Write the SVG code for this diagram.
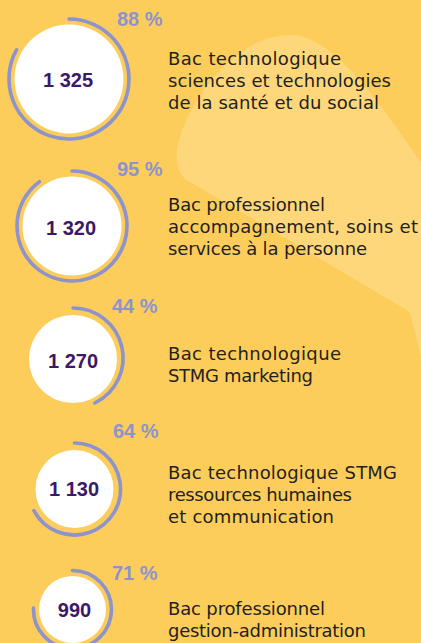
<svg xmlns="http://www.w3.org/2000/svg" width="421" height="643" viewBox="0 0 421 643">
<style>
.bg{fill:#FDCD5C}
.blob{fill:#FED77B}
.disc{fill:#FFFFFF}
.arc{fill:none;stroke:#8D93CD;stroke-width:3.6;stroke-linecap:round}
.num{font-family:"Liberation Sans",Arial,sans-serif;font-weight:bold;font-size:20px;fill:#3B1868;text-anchor:middle}
.pct{font-family:"Liberation Sans",Arial,sans-serif;font-weight:bold;font-size:20px;fill:#8D93CD}
.lbl{font-family:"DejaVu Sans",sans-serif;font-size:18px;fill:#231F20}
</style>
<rect class="bg" x="0" y="0" width="421" height="643"/>
<path class="blob" d="M290 35 C335 35 385 110 421 163 L421 357 L410 312 L192 183 C176 176 174 160 179 140 C193 92 240 35 290 35 Z"/>

<g id="node-1">
<circle class="disc" cx="69" cy="79" r="54.5"/>
<path class="arc" d="M69 19 A60 60 0 1 1 16.5 49.9"/>
<text class="num" x="68" y="87">1 325</text>
<text class="pct" x="117" y="26">88 %</text>
<text class="lbl" x="168" y="65" textLength="173">Bac technologique</text>
<text class="lbl" x="168" y="87" textLength="223">sciences et technologies</text>
<text class="lbl" x="168" y="109" textLength="211">de la santé et du social</text>
</g>

<g id="node-2">
<circle class="disc" cx="72" cy="226" r="49.5"/>
<path class="arc" d="M72 171 A55 55 0 1 1 39.4 181.7"/>
<text class="num" x="71" y="235">1 320</text>
<text class="pct" x="117" y="176">95 %</text>
<text class="lbl" x="168" y="211" textLength="157">Bac professionnel</text>
<text class="lbl" x="168" y="233" textLength="250">accompagnement, soins et</text>
<text class="lbl" x="168" y="255" textLength="199">services à la personne</text>
</g>

<g id="node-3">
<circle class="disc" cx="73" cy="359" r="44"/>
<path class="arc" d="M73 308 A50 50 0 0 1 94.9 403"/>
<text class="num" x="73" y="368">1 270</text>
<text class="pct" x="112" y="313">44 %</text>
<text class="lbl" x="168" y="360" textLength="173">Bac technologique</text>
<text class="lbl" x="168" y="382" textLength="145">STMG marketing</text>
</g>

<g id="node-4">
<circle class="disc" cx="74.5" cy="489" r="39"/>
<path class="arc" d="M74.5 443 A46 46 0 1 1 33.9 510.6"/>
<text class="num" x="74" y="496">1 130</text>
<text class="pct" x="113" y="438">64 %</text>
<text class="lbl" x="168" y="479" textLength="229">Bac technologique STMG</text>
<text class="lbl" x="168" y="501" textLength="184">ressources humaines</text>
<text class="lbl" x="168" y="523" textLength="166">et communication</text>
</g>

<g id="node-5">
<circle class="disc" cx="72.5" cy="609.5" r="33.5"/>
<path class="arc" d="M72.5 570.5 A39 39 0 1 1 33.5 608.1"/>
<text class="num" x="74.5" y="617">990</text>
<text class="pct" x="112" y="580">71 %</text>
<text class="lbl" x="168" y="615" textLength="157">Bac professionnel</text>
<text class="lbl" x="168" y="637" textLength="198">gestion-administration</text>
</g>

<g id="connectors"></g>
</svg>
